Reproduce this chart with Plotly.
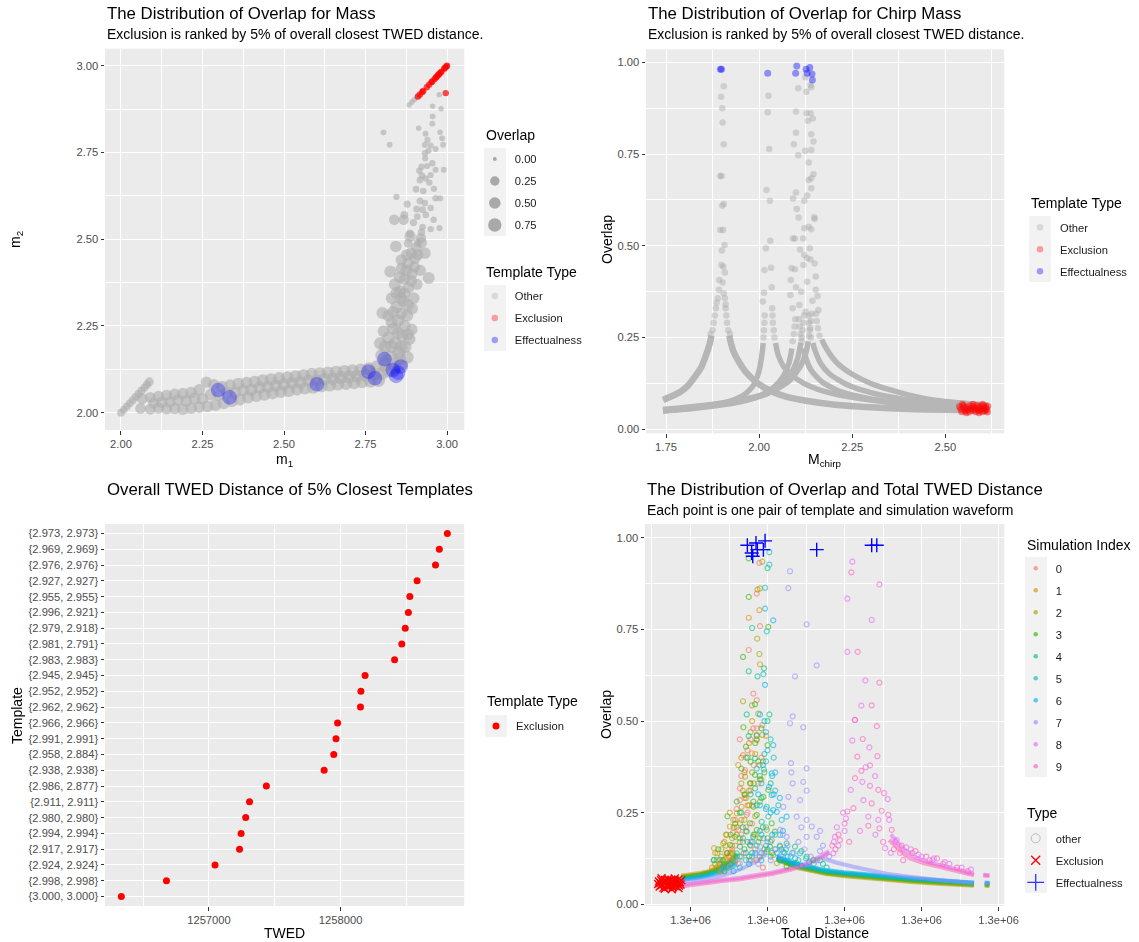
import plotly.graph_objects as go

W, H = 1139, 942
FONT = "Liberation Sans, Arial, Helvetica, sans-serif"
PANEL_BG = "#EBEBEB"
KEY_BG = "#F2F2F2"

# ================= Panel 1 : mass plane  (m1, m2, overlap) =================
mass_other_diag = [(2.000, 2.000, 0.12), (2.009, 2.009, 0.12), (2.018, 2.018, 0.13), (2.027, 2.027, 0.13),
                   (2.036, 2.036, 0.14), (2.045, 2.045, 0.14), (2.054, 2.054, 0.15), (2.063, 2.063, 0.15),
                   (2.072, 2.072, 0.16), (2.080, 2.081, 0.17), (2.087, 2.089, 0.20)]
mass_other_band_low = [(2.060, 2.012, 0.40), (2.090, 2.010, 0.42), (2.115, 2.013, 0.45), (2.140, 2.011, 0.45),
                       (2.165, 2.012, 0.48), (2.190, 2.010, 0.48), (2.215, 2.013, 0.50), (2.240, 2.016, 0.50),
                       (2.265, 2.018, 0.52), (2.290, 2.022, 0.52), (2.315, 2.027, 0.55), (2.340, 2.033, 0.55),
                       (2.365, 2.038, 0.55), (2.390, 2.044, 0.58), (2.415, 2.048, 0.58), (2.440, 2.052, 0.58),
                       (2.465, 2.056, 0.60), (2.490, 2.060, 0.60), (2.515, 2.063, 0.62), (2.540, 2.067, 0.62),
                       (2.565, 2.070, 0.62), (2.590, 2.073, 0.64), (2.615, 2.077, 0.64), (2.640, 2.079, 0.64),
                       (2.665, 2.082, 0.66), (2.690, 2.084, 0.66), (2.715, 2.086, 0.66), (2.740, 2.089, 0.68),
                       (2.765, 2.091, 0.68), (2.790, 2.093, 0.70)]
mass_other_band_mid = [(2.100, 2.028, 0.42), (2.150, 2.031, 0.45), (2.200, 2.034, 0.48), (2.250, 2.040, 0.50),
                       (2.300, 2.050, 0.52), (2.350, 2.058, 0.55), (2.400, 2.066, 0.58), (2.450, 2.074, 0.58),
                       (2.500, 2.081, 0.60), (2.550, 2.087, 0.62), (2.600, 2.093, 0.62), (2.650, 2.098, 0.64),
                       (2.700, 2.103, 0.66), (2.750, 2.108, 0.68), (2.800, 2.113, 0.70),
                       (2.125, 2.030, 0.45), (2.175, 2.036, 0.48), (2.225, 2.041, 0.50), (2.275, 2.052, 0.50),
                       (2.325, 2.058, 0.52), (2.375, 2.064, 0.55), (2.425, 2.072, 0.58), (2.475, 2.078, 0.58),
                       (2.525, 2.086, 0.60), (2.575, 2.092, 0.62), (2.625, 2.097, 0.62), (2.675, 2.101, 0.64),
                       (2.725, 2.106, 0.66), (2.775, 2.110, 0.68)]
mass_other_band_high = [(2.065, 2.040, 0.40), (2.090, 2.044, 0.42), (2.115, 2.047, 0.45), (2.140, 2.050, 0.45),
                        (2.165, 2.053, 0.48), (2.190, 2.055, 0.48), (2.215, 2.058, 0.50), (2.240, 2.066, 0.50),
                        (2.262, 2.088, 0.45), (2.285, 2.080, 0.50), (2.310, 2.075, 0.52), (2.335, 2.079, 0.52),
                        (2.360, 2.083, 0.55), (2.385, 2.086, 0.55), (2.410, 2.089, 0.58), (2.435, 2.093, 0.58),
                        (2.460, 2.096, 0.60), (2.485, 2.099, 0.60), (2.510, 2.101, 0.62), (2.535, 2.104, 0.62),
                        (2.560, 2.108, 0.62), (2.585, 2.111, 0.64), (2.610, 2.113, 0.64), (2.635, 2.115, 0.64),
                        (2.660, 2.117, 0.66), (2.685, 2.119, 0.66), (2.710, 2.121, 0.66), (2.735, 2.123, 0.68),
                        (2.760, 2.127, 0.68), (2.785, 2.132, 0.70), (2.810, 2.138, 0.70)]
mass_other_rise = [(2.820, 2.120, 0.75), (2.840, 2.130, 0.72), (2.860, 2.140, 0.70), (2.878, 2.160, 0.65),
                   (2.830, 2.160, 0.70), (2.852, 2.172, 0.68), (2.810, 2.190, 0.65), (2.872, 2.190, 0.62),
                   (2.840, 2.200, 0.65), (2.820, 2.215, 0.68), (2.862, 2.222, 0.62), (2.885, 2.212, 0.55),
                   (2.805, 2.235, 0.50), (2.835, 2.242, 0.60), (2.870, 2.250, 0.60), (2.892, 2.240, 0.50),
                   (2.850, 2.265, 0.58), (2.820, 2.280, 0.55), (2.878, 2.280, 0.55), (2.802, 2.287, 0.55),
                   (2.893, 2.300, 0.50), (2.845, 2.305, 0.60), (2.866, 2.322, 0.55), (2.830, 2.330, 0.50),
                   (2.898, 2.330, 0.50), (2.856, 2.350, 0.55), (2.882, 2.360, 0.50), (2.840, 2.370, 0.55),
                   (2.908, 2.370, 0.45), (2.870, 2.385, 0.50), (2.944, 2.388, 0.55), (2.826, 2.407, 0.55),
                   (2.892, 2.400, 0.50), (2.860, 2.415, 0.50), (2.918, 2.410, 0.45), (2.880, 2.430, 0.50),
                   (2.902, 2.445, 0.45), (2.932, 2.460, 0.50), (2.876, 2.455, 0.45), (2.843, 2.479, 0.50),
                   (2.906, 2.475, 0.45), (2.922, 2.490, 0.40), (2.887, 2.508, 0.45), (2.920, 2.503, 0.35),
                   (2.838, 2.556, 0.35), (2.867, 2.556, 0.35),
                   (2.815, 2.150, 0.70), (2.855, 2.155, 0.70), (2.860, 2.190, 0.65), (2.830, 2.190, 0.65),
                   (2.850, 2.230, 0.60), (2.880, 2.225, 0.55), (2.830, 2.260, 0.55), (2.860, 2.285, 0.55),
                   (2.835, 2.290, 0.55), (2.880, 2.310, 0.55), (2.860, 2.330, 0.55), (2.845, 2.345, 0.55),
                   (2.870, 2.345, 0.50), (2.890, 2.380, 0.50), (2.855, 2.390, 0.55), (2.875, 2.410, 0.50),
                   (2.900, 2.420, 0.45), (2.890, 2.460, 0.45), (2.860, 2.440, 0.50), (2.910, 2.455, 0.45),
                   (2.800, 2.165, 0.70), (2.795, 2.200, 0.60)]
mass_other_sparse = [(2.805, 2.808, 0.03), (2.824, 2.772, 0.03), (2.913, 2.820, 0.02), (2.934, 2.804, 0.03),
                     (2.976, 2.916, 0.02), (2.979, 2.808, 0.02), (2.985, 2.791, 0.03), (2.988, 2.772, 0.03),
                     (2.956, 2.883, 0.02), (2.982, 2.876, 0.02), (2.956, 2.854, 0.03), (2.955, 2.833, 0.03),
                     (2.940, 2.786, 0.04), (2.932, 2.772, 0.04), (2.950, 2.770, 0.03), (2.943, 2.755, 0.04),
                     (2.932, 2.748, 0.05), (2.965, 2.760, 0.03), (2.933, 2.733, 0.04), (2.955, 2.719, 0.05),
                     (2.922, 2.709, 0.05), (2.939, 2.711, 0.04), (2.965, 2.700, 0.04), (2.990, 2.700, 0.03),
                     (2.915, 2.697, 0.05), (2.923, 2.683, 0.06), (2.950, 2.685, 0.04), (2.917, 2.670, 0.06),
                     (2.946, 2.663, 0.05), (2.935, 2.675, 0.05), (2.905, 2.644, 0.07), (2.927, 2.639, 0.06),
                     (2.960, 2.645, 0.05), (2.845, 2.622, 0.05), (2.878, 2.601, 0.08), (2.917, 2.610, 0.07),
                     (2.965, 2.618, 0.05), (2.979, 2.618, 0.04), (2.932, 2.604, 0.06), (2.907, 2.587, 0.08),
                     (2.925, 2.585, 0.07), (2.950, 2.590, 0.05), (2.935, 2.570, 0.06), (2.959, 2.556, 0.05),
                     (2.909, 2.565, 0.07), (2.977, 2.532, 0.04), (2.950, 2.529, 0.05), (2.925, 2.535, 0.06),
                     (2.897, 2.548, 0.09), (2.869, 2.570, 0.12), (2.886, 2.516, 0.15), (2.922, 2.520, 0.10),
                     (2.881, 2.488, 0.20), (2.910, 2.490, 0.12),
                     (2.884, 2.887, 0.02), (2.892, 2.895, 0.02), (2.900, 2.902, 0.02), (2.907, 2.909, 0.02)]
mass_excl = [(2.911, 2.911, 0.05), (2.917, 2.917, 0.05), (2.924, 2.924, 0.05), (2.927, 2.927, 0.05),
             (2.938, 2.938, 0.05), (2.945, 2.945, 0.05), (2.952, 2.952, 0.05), (2.955, 2.955, 0.05),
             (2.962, 2.962, 0.05), (2.966, 2.966, 0.05), (2.969, 2.969, 0.05), (2.973, 2.973, 0.05),
             (2.976, 2.976, 0.05), (2.980, 2.980, 0.05), (2.983, 2.983, 0.05), (2.991, 2.991, 0.05),
             (2.994, 2.994, 0.05), (2.998, 2.998, 0.05), (3.000, 3.000, 0.05), (2.996, 2.921, 0.05)]
mass_effect = [(2.298, 2.065, 0.98), (2.333, 2.044, 0.98), (2.601, 2.082, 0.97), (2.759, 2.118, 0.99),
               (2.779, 2.099, 0.97), (2.808, 2.154, 0.98), (2.834, 2.123, 0.97), (2.844, 2.106, 0.985),
               (2.858, 2.133, 0.968), (2.850, 2.115, 0.95)]
overlap_legend_values = [0.00, 0.25, 0.50, 0.75]

# ================= Panel 2 : chirp mass vs overlap =================
chirp_band_A_left = [(1.742, 0.080), (1.765, 0.090), (1.790, 0.103), (1.810, 0.120), (1.828, 0.144),
                     (1.845, 0.170), (1.856, 0.198), (1.867, 0.232), (1.872, 0.255)]
chirp_band_A_right = [(1.920, 0.255), (1.925, 0.232), (1.932, 0.210), (1.945, 0.185),
                      (1.965, 0.155), (1.997, 0.125), (2.030, 0.105), (2.072, 0.089), (2.130, 0.077),
                      (2.204, 0.067), (2.300, 0.060), (2.400, 0.055), (2.500, 0.053), (2.615, 0.051)]
chirp_band_B_left = [(1.742, 0.050), (1.800, 0.055), (1.860, 0.063), (1.920, 0.076), (1.960, 0.094),
                     (1.985, 0.120), (2.000, 0.160), (2.007, 0.200), (2.011, 0.235)]
chirp_band_B_right = [(2.044, 0.235), (2.048, 0.215), (2.052, 0.200), (2.065, 0.172), (2.085, 0.150),
                      (2.120, 0.125), (2.170, 0.105), (2.250, 0.087), (2.350, 0.073), (2.450, 0.064),
                      (2.550, 0.058), (2.615, 0.055)]
chirp_band_C1_left = [(1.742, 0.050), (1.850, 0.060), (1.950, 0.075), (2.000, 0.090), (2.040, 0.115),
                      (2.065, 0.145), (2.080, 0.180), (2.088, 0.220)]
chirp_band_C1_right = [(2.118, 0.220), (2.125, 0.195), (2.140, 0.160), (2.170, 0.128),
                       (2.220, 0.102), (2.300, 0.083), (2.400, 0.070), (2.500, 0.062), (2.615, 0.056)]
chirp_band_C2_left = [(1.742, 0.052), (1.850, 0.062), (1.950, 0.077), (2.020, 0.096), (2.060, 0.121),
                      (2.090, 0.160), (2.105, 0.200), (2.112, 0.235)]
chirp_band_C2_right = [(2.144, 0.235), (2.150, 0.215), (2.165, 0.180), (2.190, 0.150),
                       (2.240, 0.120), (2.300, 0.100), (2.400, 0.080), (2.500, 0.069), (2.615, 0.061)]
chirp_band_C3_left = [(1.742, 0.054), (1.850, 0.065), (1.950, 0.080), (2.030, 0.101), (2.080, 0.131),
                      (2.110, 0.170), (2.126, 0.210), (2.132, 0.240)]
chirp_band_C3_right = [(2.168, 0.245), (2.175, 0.230), (2.190, 0.205), (2.210, 0.180),
                       (2.250, 0.150), (2.300, 0.125), (2.350, 0.108), (2.400, 0.094), (2.450, 0.083),
                       (2.500, 0.076), (2.560, 0.070), (2.615, 0.066)]
chirp_other_sparse = [(1.905, 0.935), (1.898, 0.906), (1.901, 0.875), (1.902, 0.836), (1.905, 0.777),
                      (1.896, 0.690), (1.899, 0.690), (1.905, 0.614), (1.901, 0.609), (1.896, 0.543),
                      (1.903, 0.543), (1.907, 0.502), (1.900, 0.487), (1.899, 0.448), (1.904, 0.443),
                      (1.908, 0.427), (1.893, 0.407), (1.902, 0.400), (1.892, 0.380), (1.905, 0.371),
                      (1.908, 0.357), (1.889, 0.357), (1.910, 0.340), (1.886, 0.345),
                      (1.875, 0.270), (1.878, 0.290), (1.881, 0.310), (1.884, 0.330), (1.917, 0.270),
                      (1.914, 0.290), (1.912, 0.310), (1.910, 0.330), (1.870, 0.260), (1.922, 0.260),
                      (2.025, 0.909), (2.023, 0.864), (2.027, 0.764), (2.020, 0.652), (2.029, 0.623),
                      (2.030, 0.514), (2.018, 0.493), (2.032, 0.440), (2.014, 0.434), (2.034, 0.387),
                      (2.013, 0.372), (2.010, 0.348), (2.035, 0.330),
                      (2.012, 0.250), (2.013, 0.270), (2.014, 0.290), (2.015, 0.310), (2.041, 0.250),
                      (2.039, 0.270), (2.037, 0.290), (2.036, 0.310),
                      (2.124, 0.959), (2.105, 0.929), (2.127, 0.920), (2.138, 0.938), (2.140, 0.932),
                      (2.099, 0.866), (2.127, 0.861), (2.138, 0.861), (2.131, 0.841), (2.144, 0.847),
                      (2.099, 0.808), (2.140, 0.804), (2.093, 0.777), (2.146, 0.784), (2.105, 0.747),
                      (2.124, 0.759), (2.140, 0.761), (2.133, 0.727), (2.146, 0.695), (2.133, 0.679),
                      (2.140, 0.684), (2.140, 0.657), (2.099, 0.645), (2.091, 0.629), (2.121, 0.623),
                      (2.129, 0.637), (2.101, 0.600), (2.106, 0.577), (2.148, 0.578), (2.149, 0.573),
                      (2.121, 0.548), (2.133, 0.552), (2.140, 0.545), (2.091, 0.520), (2.096, 0.520),
                      (2.118, 0.520), (2.110, 0.490), (2.136, 0.493), (2.121, 0.475), (2.129, 0.466),
                      (2.138, 0.463), (2.149, 0.452), (2.087, 0.439), (2.096, 0.436), (2.119, 0.448),
                      (2.152, 0.416), (2.085, 0.407), (2.129, 0.402), (2.099, 0.387), (2.152, 0.380),
                      (2.084, 0.366), (2.113, 0.375), (2.157, 0.363), (2.108, 0.339), (2.143, 0.350),
                      (2.159, 0.325), (2.090, 0.330), (2.125, 0.320),
                      (2.090, 0.240), (2.093, 0.260), (2.095, 0.280), (2.097, 0.300), (2.114, 0.240),
                      (2.111, 0.260), (2.109, 0.280), (2.107, 0.300), (2.114, 0.250), (2.117, 0.270),
                      (2.119, 0.290), (2.121, 0.310), (2.139, 0.250), (2.136, 0.270), (2.134, 0.290),
                      (2.133, 0.310), (2.134, 0.255), (2.137, 0.275), (2.139, 0.295), (2.141, 0.315),
                      (2.162, 0.255), (2.158, 0.275), (2.155, 0.295), (2.153, 0.315)]
chirp_excl = [(2.538, 0.062), (2.541, 0.055), (2.544, 0.048), (2.548, 0.065), (2.551, 0.058), (2.553, 0.050),
              (2.557, 0.061), (2.560, 0.054), (2.563, 0.047), (2.566, 0.064), (2.569, 0.057), (2.572, 0.051),
              (2.575, 0.062), (2.578, 0.055), (2.581, 0.048), (2.584, 0.065), (2.587, 0.058), (2.589, 0.051),
              (2.592, 0.062), (2.595, 0.055), (2.598, 0.048), (2.601, 0.064), (2.604, 0.057), (2.606, 0.050),
              (2.609, 0.061), (2.611, 0.054), (2.613, 0.047), (2.614, 0.063), (2.546, 0.068), (2.574, 0.068),
              (2.600, 0.068), (2.556, 0.045), (2.590, 0.045)]
chirp_effect = [(1.896, 0.981), (1.899, 0.981), (2.023, 0.970), (2.101, 0.990), (2.098, 0.970),
                (2.126, 0.981), (2.129, 0.970), (2.136, 0.986), (2.142, 0.968), (2.143, 0.952)]

# ================= Panel 3 : TWED of 5% closest templates =================
templates = ["{3.000, 3.000}", "{2.998, 2.998}", "{2.924, 2.924}", "{2.917, 2.917}", "{2.994, 2.994}",
             "{2.980, 2.980}", "{2.911, 2.911}", "{2.986, 2.877}", "{2.938, 2.938}", "{2.958, 2.884}",
             "{2.991, 2.991}", "{2.966, 2.966}", "{2.962, 2.962}", "{2.952, 2.952}", "{2.945, 2.945}",
             "{2.983, 2.983}", "{2.981, 2.791}", "{2.979, 2.918}", "{2.996, 2.921}", "{2.955, 2.955}",
             "{2.927, 2.927}", "{2.976, 2.976}", "{2.969, 2.969}", "{2.973, 2.973}"]
twed = [1256334, 1256677, 1257046, 1257232, 1257244, 1257279, 1257308, 1257436, 1257875, 1257948,
        1257965, 1257977, 1258151, 1258154, 1258186, 1258410, 1258465, 1258491, 1258515, 1258526,
        1258581, 1258721, 1258750, 1258811]
twed_ticks = [1257000, 1258000]
twed_ticktext = ["1257000", "1258000"]

# ================= Panel 4 : overlap vs total distance (in thousands) =================
sim_colors = ["#F8766D", "#D89000", "#A3A500", "#39B600", "#00BF7D",
              "#00BFC4", "#00B0F6", "#9590FF", "#E76BF3", "#FF62BC"]
sim_labels = ["0", "1", "2", "3", "4", "5", "6", "7", "8", "9"]
dist_ticks = [1260, 1265, 1270, 1275, 1280]
dist_ticktext = ["1.3e+06"] * 5

sim_points = [
    [(1264.47, 0.932), (1264.30, 0.848), (1264.51, 0.759), (1263.78, 0.694), (1264.08, 0.575), (1264.30, 0.557),
     (1264.08, 0.480), (1264.30, 0.480), (1264.66, 0.489), (1263.41, 0.407), (1263.54, 0.366), (1263.21, 0.316),
     (1263.21, 0.284), (1263.65, 0.244), (1263.10, 0.203), (1264.00, 0.270), (1262.90, 0.230), (1263.40, 0.170),
     (1262.70, 0.150), (1263.90, 0.310), (1262.50, 0.130), (1264.20, 0.150), (1263.00, 0.260),
     (1262.20, 0.100), (1262.60, 0.120), (1262.90, 0.160), (1263.30, 0.190), (1263.60, 0.210), (1263.90, 0.170),
     (1264.30, 0.120), (1264.70, 0.100), (1262.40, 0.140), (1263.10, 0.110), (1263.70, 0.250), (1262.00, 0.090),
     (1264.00, 0.220), (1263.45, 0.140), (1262.75, 0.195),
     (1263.30, 0.350), (1263.70, 0.420), (1264.10, 0.380), (1263.90, 0.450), (1264.40, 0.330), (1263.50, 0.290),
     (1264.60, 0.400), (1263.20, 0.450)],
    [(1264.51, 0.862), (1264.47, 0.803), (1263.78, 0.782), (1264.51, 0.655), (1264.30, 0.462), (1264.30, 0.448),
     (1263.99, 0.412), (1264.47, 0.380), (1263.10, 0.380), (1263.86, 0.330), (1263.32, 0.266), (1263.00, 0.248),
     (1262.78, 0.230), (1262.56, 0.212), (1262.35, 0.189), (1265.27, 0.175), (1265.81, 0.157), (1261.53, 0.153),
     (1265.37, 0.134), (1262.00, 0.130), (1263.60, 0.290), (1261.70, 0.120), (1262.30, 0.160),
     (1261.40, 0.100), (1261.90, 0.110), (1262.40, 0.140), (1262.70, 0.180), (1263.00, 0.210), (1263.30, 0.230),
     (1263.60, 0.200), (1263.90, 0.160), (1262.20, 0.170), (1261.60, 0.140), (1262.90, 0.120), (1264.20, 0.190),
     (1263.40, 0.310), (1262.55, 0.250), (1264.50, 0.130),
     (1263.50, 0.360), (1263.80, 0.440), (1264.20, 0.410), (1264.00, 0.500), (1263.30, 0.400), (1264.60, 0.340),
     (1263.70, 0.270), (1264.90, 0.460)],
    [(1264.66, 0.935), (1264.35, 0.859), (1264.33, 0.725), (1264.47, 0.683), (1263.41, 0.554), (1263.99, 0.543),
     (1264.66, 0.462), (1263.54, 0.348), (1264.51, 0.280), (1263.54, 0.298), (1263.21, 0.221), (1264.95, 0.203),
     (1262.13, 0.166), (1261.74, 0.139), (1265.60, 0.112), (1263.00, 0.190), (1264.10, 0.330), (1262.60, 0.140),
     (1261.60, 0.110), (1262.00, 0.150), (1262.30, 0.190), (1262.80, 0.210), (1263.20, 0.170), (1263.50, 0.230),
     (1263.80, 0.270), (1264.20, 0.240), (1262.50, 0.100), (1263.30, 0.130), (1264.50, 0.180), (1264.80, 0.150),
     (1261.90, 0.090), (1263.90, 0.120), (1262.70, 0.160),
     (1263.60, 0.400), (1264.00, 0.360), (1264.30, 0.450), (1263.80, 0.310), (1264.70, 0.390), (1263.30, 0.330),
     (1264.40, 0.520), (1263.90, 0.470)],
    [(1263.78, 0.944), (1263.78, 0.839), (1265.05, 0.757), (1263.41, 0.675), (1264.19, 0.546), (1263.43, 0.483),
     (1265.00, 0.434), (1263.90, 0.389), (1264.19, 0.353), (1264.51, 0.341), (1265.05, 0.312), (1264.73, 0.293),
     (1264.08, 0.280), (1264.08, 0.266), (1264.30, 0.244), (1265.27, 0.221), (1263.86, 0.221), (1264.30, 0.203),
     (1265.48, 0.198), (1262.89, 0.184), (1262.56, 0.162), (1265.16, 0.157), (1262.35, 0.139), (1264.95, 0.143),
     (1267.97, 0.121), (1266.24, 0.103), (1263.20, 0.250), (1262.10, 0.120),
     (1261.50, 0.120), (1261.80, 0.150), (1262.20, 0.110), (1262.60, 0.190), (1262.90, 0.220), (1263.20, 0.180),
     (1263.50, 0.150), (1263.80, 0.130), (1264.10, 0.190), (1264.40, 0.170), (1264.70, 0.210), (1265.00, 0.180),
     (1265.30, 0.140), (1263.00, 0.280), (1262.40, 0.240),
     (1263.60, 0.430), (1264.40, 0.390), (1263.90, 0.330), (1264.80, 0.360), (1263.50, 0.300), (1264.60, 0.480),
     (1264.20, 0.440), (1263.30, 0.370)],
    [(1265.00, 0.918), (1264.00, 0.754), (1264.77, 0.644), (1263.78, 0.636), (1264.35, 0.622), (1263.65, 0.518),
     (1265.12, 0.518), (1263.78, 0.459), (1264.19, 0.398), (1264.19, 0.316), (1264.95, 0.266), (1265.05, 0.239),
     (1264.62, 0.225), (1263.65, 0.198), (1264.08, 0.184), (1263.21, 0.157), (1261.91, 0.121), (1263.00, 0.139),
     (1266.24, 0.166), (1266.78, 0.157), (1267.54, 0.130), (1266.89, 0.112), (1267.20, 0.145), (1268.60, 0.110),
     (1262.60, 0.110), (1263.00, 0.130), (1263.40, 0.210), (1263.70, 0.170), (1264.00, 0.140), (1264.30, 0.270),
     (1264.60, 0.190), (1264.90, 0.160), (1265.20, 0.130), (1265.50, 0.150), (1265.80, 0.120), (1266.10, 0.140),
     (1266.50, 0.110), (1263.30, 0.250), (1262.20, 0.090),
     (1264.50, 0.350), (1264.80, 0.410), (1265.20, 0.330), (1264.30, 0.460), (1263.90, 0.300), (1265.00, 0.500),
     (1264.60, 0.290), (1263.70, 0.400)],
    [(1265.12, 0.927), (1265.12, 0.961), (1264.84, 0.864), (1264.95, 0.745), (1264.73, 0.628), (1265.37, 0.434),
     (1264.77, 0.368), (1265.27, 0.298), (1265.37, 0.257), (1265.92, 0.230), (1263.41, 0.180), (1265.81, 0.189),
     (1263.86, 0.162), (1261.53, 0.121), (1266.02, 0.143), (1267.11, 0.139), (1268.41, 0.120), (1268.84, 0.100),
     (1265.30, 0.350), (1266.50, 0.130),
     (1263.20, 0.100), (1263.60, 0.120), (1264.00, 0.130), (1264.30, 0.160), (1264.60, 0.140), (1264.90, 0.210),
     (1265.20, 0.170), (1265.50, 0.190), (1265.80, 0.160), (1266.20, 0.150), (1266.60, 0.140), (1267.00, 0.120),
     (1267.50, 0.125), (1268.00, 0.110), (1264.50, 0.270),
     (1264.90, 0.390), (1265.20, 0.450), (1264.60, 0.330), (1265.50, 0.310), (1264.80, 0.500), (1265.40, 0.400),
     (1264.30, 0.370), (1265.70, 0.270)],
    [(1264.84, 0.807), (1265.37, 0.775), (1264.84, 0.599), (1264.51, 0.518), (1265.27, 0.357), (1265.60, 0.252),
     (1266.24, 0.239), (1264.73, 0.180), (1262.13, 0.103), (1264.50, 0.200), (1265.90, 0.150), (1263.60, 0.140),
     (1265.00, 0.420), (1266.80, 0.125), (1267.70, 0.115),
     (1262.80, 0.090), (1263.20, 0.130), (1263.80, 0.110), (1264.20, 0.140), (1264.60, 0.120), (1265.00, 0.150),
     (1265.30, 0.190), (1265.60, 0.140), (1265.90, 0.120), (1266.30, 0.130), (1266.70, 0.110), (1267.20, 0.105),
     (1264.90, 0.260), (1265.40, 0.300), (1264.00, 0.170),
     (1265.10, 0.320), (1264.70, 0.380), (1265.50, 0.360), (1264.90, 0.470), (1265.80, 0.290), (1264.40, 0.300),
     (1265.20, 0.250), (1266.00, 0.200)],
    [(1266.46, 0.909), (1266.35, 0.863), (1267.54, 0.764), (1268.19, 0.652), (1266.78, 0.622), (1266.63, 0.513),
     (1266.46, 0.494), (1267.32, 0.483), (1266.52, 0.385), (1267.54, 0.371), (1266.55, 0.360), (1267.32, 0.334),
     (1266.63, 0.330), (1266.35, 0.293), (1267.11, 0.284), (1267.54, 0.310), (1266.89, 0.239), (1267.54, 0.230),
     (1267.87, 0.212), (1268.19, 0.184), (1267.54, 0.184), (1266.24, 0.184), (1265.81, 0.203), (1266.02, 0.266),
     (1268.41, 0.200), (1264.51, 0.157), (1264.20, 0.134), (1264.50, 0.139), (1263.20, 0.112), (1262.56, 0.103),
     (1268.60, 0.160), (1269.00, 0.130), (1268.40, 0.145),
     (1264.80, 0.140), (1265.20, 0.120), (1265.50, 0.150), (1265.90, 0.130), (1266.30, 0.160), (1266.70, 0.140),
     (1267.00, 0.170), (1267.40, 0.150), (1267.80, 0.130), (1268.20, 0.120), (1265.00, 0.170), (1266.00, 0.190),
     (1267.20, 0.210), (1263.80, 0.120), (1264.40, 0.110)],
    [(1270.50, 0.935), (1270.18, 0.834), (1271.76, 0.776), (1270.18, 0.689), (1271.35, 0.611), (1271.09, 0.542),
     (1270.66, 0.503), (1270.50, 0.447), (1271.61, 0.428), (1271.37, 0.374), (1271.98, 0.350), (1271.15, 0.334),
     (1270.40, 0.312), (1272.80, 0.287), (1271.22, 0.284), (1271.54, 0.239), (1272.19, 0.230), (1270.09, 0.234),
     (1272.90, 0.230), (1269.38, 0.184), (1269.27, 0.139), (1270.00, 0.200), (1272.63, 0.153), (1273.38, 0.175),
     (1269.60, 0.160), (1271.00, 0.200), (1272.00, 0.190), (1273.00, 0.140), (1274.00, 0.155), (1274.80, 0.135),
     (1275.70, 0.120), (1276.50, 0.115), (1273.30, 0.170), (1274.30, 0.150), (1275.00, 0.130), (1275.80, 0.125),
     (1276.80, 0.110), (1277.60, 0.100), (1278.20, 0.095), (1269.50, 0.210), (1269.90, 0.250), (1269.30, 0.170)],
    [(1270.44, 0.906), (1272.26, 0.873), (1270.85, 0.689), (1272.26, 0.605), (1271.76, 0.543), (1270.68, 0.503),
     (1272.09, 0.486), (1271.18, 0.451), (1270.83, 0.403), (1272.13, 0.404), (1271.65, 0.379), (1271.09, 0.364),
     (1270.68, 0.344), (1271.65, 0.323), (1272.19, 0.312), (1272.56, 0.303), (1270.57, 0.262), (1271.76, 0.275),
     (1272.41, 0.255), (1270.18, 0.253), (1271.54, 0.214), (1272.26, 0.207), (1272.84, 0.244), (1273.06, 0.203),
     (1269.70, 0.175), (1272.50, 0.170), (1269.40, 0.150), (1270.30, 0.170), (1273.20, 0.150), (1273.60, 0.140),
     (1274.40, 0.140), (1275.30, 0.130), (1273.80, 0.120), (1276.00, 0.125), (1273.70, 0.160), (1274.60, 0.145),
     (1275.50, 0.120), (1276.40, 0.110), (1277.30, 0.100), (1278.00, 0.090), (1269.60, 0.190), (1270.00, 0.220),
     (1269.20, 0.160)],
]
sim_left_tail = [
    [(1259.40, 0.072), (1260.00, 0.075), (1260.60, 0.079), (1261.20, 0.085), (1261.80, 0.095), (1262.40, 0.110), (1263.00, 0.130)],
    [(1259.40, 0.078), (1260.00, 0.081), (1260.60, 0.085), (1261.20, 0.090), (1261.60, 0.100), (1262.20, 0.125), (1262.80, 0.150)],
    [(1259.40, 0.075), (1260.00, 0.078), (1260.60, 0.082), (1261.20, 0.088), (1261.80, 0.098), (1262.40, 0.118), (1263.00, 0.140)],
    [(1259.40, 0.074), (1260.00, 0.077), (1260.60, 0.081), (1261.20, 0.087), (1261.80, 0.097), (1262.40, 0.112), (1263.00, 0.135)],
    [(1259.40, 0.070), (1260.00, 0.073), (1260.60, 0.077), (1261.20, 0.083), (1261.80, 0.092), (1262.40, 0.105), (1263.00, 0.120)],
    [(1259.40, 0.068), (1260.00, 0.071), (1260.60, 0.075), (1261.20, 0.080), (1261.80, 0.088), (1262.40, 0.100), (1263.00, 0.115)],
    [(1259.40, 0.066), (1260.00, 0.069), (1260.60, 0.073), (1261.20, 0.078), (1261.80, 0.085), (1262.40, 0.095), (1263.00, 0.108)],
    [(1259.40, 0.060), (1260.20, 0.063), (1261.00, 0.068), (1261.80, 0.075), (1262.60, 0.085), (1263.40, 0.098), (1264.20, 0.115), (1264.90, 0.135)],
    [(1259.40, 0.052), (1260.20, 0.057), (1261.05, 0.062), (1262.10, 0.067), (1263.21, 0.072), (1264.30, 0.079), (1265.37, 0.087), (1266.50, 0.098), (1267.54, 0.112), (1268.41, 0.130), (1269.00, 0.145)],
    [(1259.40, 0.048), (1260.20, 0.053), (1261.05, 0.058), (1262.10, 0.063), (1263.21, 0.068), (1264.30, 0.075), (1265.37, 0.083), (1266.50, 0.094), (1267.54, 0.107), (1268.41, 0.125), (1269.00, 0.140)],
]
sim_right_tail = [
    [(1265.6, 0.127), (1266.3, 0.114), (1267.0, 0.104), (1267.8, 0.097), (1268.8, 0.088), (1270.0, 0.082), (1271.5, 0.076), (1273.0, 0.070), (1274.5, 0.066), (1276.0, 0.062), (1277.5, 0.059), (1278.4, 0.056), None, (1279.1, 0.056), (1279.4, 0.055)],
    [(1265.6, 0.123), (1266.3, 0.110), (1267.0, 0.100), (1267.8, 0.093), (1268.8, 0.084), (1270.0, 0.078), (1271.5, 0.072), (1273.0, 0.066), (1274.5, 0.062), (1276.0, 0.058), (1277.5, 0.055), (1278.4, 0.052), None, (1279.1, 0.052), (1279.4, 0.051)],
    [(1265.6, 0.121), (1266.3, 0.108), (1267.0, 0.098), (1267.8, 0.091), (1268.8, 0.082), (1270.0, 0.076), (1271.5, 0.070), (1273.0, 0.064), (1274.5, 0.060), (1276.0, 0.056), (1277.5, 0.053), (1278.4, 0.050), None, (1279.1, 0.050), (1279.4, 0.050)],
    [(1265.6, 0.125), (1266.3, 0.112), (1267.0, 0.102), (1267.8, 0.095), (1268.8, 0.086), (1270.0, 0.080), (1271.5, 0.074), (1273.0, 0.068), (1274.5, 0.064), (1276.0, 0.060), (1277.5, 0.057), (1278.4, 0.054), None, (1279.1, 0.054), (1279.4, 0.053)],
    [(1265.6, 0.128), (1266.3, 0.115), (1267.0, 0.105), (1267.8, 0.098), (1268.8, 0.089), (1270.0, 0.083), (1271.5, 0.077), (1273.0, 0.071), (1274.5, 0.067), (1276.0, 0.063), (1277.5, 0.060), (1278.4, 0.057), None, (1279.1, 0.057), (1279.4, 0.056)],
    [(1265.6, 0.130), (1266.3, 0.117), (1267.0, 0.107), (1267.8, 0.100), (1268.8, 0.091), (1270.0, 0.085), (1271.5, 0.079), (1273.0, 0.073), (1274.5, 0.069), (1276.0, 0.065), (1277.5, 0.061), (1278.4, 0.058), None, (1279.1, 0.058), (1279.4, 0.057)],
    [(1265.6, 0.132), (1266.3, 0.119), (1267.0, 0.109), (1267.8, 0.102), (1268.8, 0.093), (1270.0, 0.087), (1271.5, 0.081), (1273.0, 0.075), (1274.5, 0.071), (1276.0, 0.066), (1277.5, 0.062), (1278.4, 0.059), None, (1279.1, 0.059), (1279.4, 0.058)],
    [(1268.6, 0.125), (1269.5, 0.113), (1270.57, 0.102), (1271.6, 0.092), (1272.74, 0.083), (1273.8, 0.077), (1274.9, 0.071), (1276.6, 0.064), (1278.36, 0.058), None, (1279.1, 0.058), (1279.4, 0.058)],
    [(1273.0, 0.190), (1273.5, 0.165), (1274.0, 0.145), (1274.6, 0.128), (1275.4, 0.115), (1276.3, 0.105), (1277.2, 0.095), (1278.0, 0.087), (1278.4, 0.083), None, (1279.0, 0.080), (1279.4, 0.079)],
    [(1272.9, 0.175), (1273.4, 0.155), (1273.9, 0.135), (1274.25, 0.125), (1275.11, 0.112), (1276.2, 0.101), (1277.0, 0.092), (1277.8, 0.084), (1278.4, 0.079), None, (1279.0, 0.078), (1279.4, 0.077)],
]
dist_excl = [(1257.90, 0.055), (1257.95, 0.062), (1258.00, 0.048), (1258.05, 0.058), (1258.10, 0.065), (1258.15, 0.052),
             (1258.20, 0.060), (1258.25, 0.045), (1258.30, 0.057), (1258.35, 0.066), (1258.40, 0.050), (1258.45, 0.061),
             (1258.50, 0.054), (1258.55, 0.047), (1258.60, 0.063), (1258.65, 0.056), (1258.70, 0.050), (1258.75, 0.066),
             (1258.80, 0.059), (1258.85, 0.046), (1258.90, 0.053), (1258.95, 0.064), (1259.00, 0.057), (1259.05, 0.049),
             (1259.10, 0.062), (1259.15, 0.055), (1259.20, 0.067), (1259.25, 0.051), (1259.30, 0.060), (1259.35, 0.054),
             (1259.40, 0.065), (1258.12, 0.071), (1258.55, 0.069), (1258.98, 0.070), (1258.33, 0.042), (1258.78, 0.041),
             (1259.22, 0.044)]
dist_effect = [(1263.69, 0.980), (1264.25, 0.986), (1264.84, 0.992), (1263.97, 0.959), (1264.34, 0.968),
               (1264.73, 0.968), (1264.04, 0.950), (1268.19, 0.968), (1271.76, 0.980), (1272.09, 0.980)]


# ---------------- helpers ----------------
def ov_size(v):
    return 4 + 10.8 * v ** 0.5


def col(rows, i):
    return [None if r is None else r[i] for r in rows]


def pxx(p):
    return p / W


def pxy(p):
    return 1 - p / H


fig = go.Figure()

# ---- Panel 1 ----
mass_other = (mass_other_diag + mass_other_band_low + mass_other_band_mid + mass_other_band_high
              + mass_other_rise + mass_other_sparse)
fig.add_trace(go.Scatter(x=col(mass_other, 0), y=col(mass_other, 1), mode="markers", xaxis="x", yaxis="y",
                         marker=dict(size=[ov_size(r[2]) for r in mass_other], color="rgba(174,174,174,0.88)", line=dict(width=0)),
                         showlegend=False, hoverinfo="skip"))
fig.add_trace(go.Scatter(x=col(mass_excl, 0), y=col(mass_excl, 1), mode="markers", xaxis="x", yaxis="y",
                         marker=dict(size=[ov_size(r[2]) for r in mass_excl], color="#FF0000", line=dict(width=0)),
                         showlegend=False, hoverinfo="skip"))
fig.add_trace(go.Scatter(x=col(mass_effect, 0), y=col(mass_effect, 1), mode="markers", xaxis="x", yaxis="y",
                         marker=dict(size=[ov_size(r[2]) for r in mass_effect], color="rgba(0,0,255,0.45)", line=dict(width=0)),
                         showlegend=False, hoverinfo="skip"))

# ---- Panel 2 ----
chirp_bands = [chirp_band_A_left, chirp_band_A_right, chirp_band_B_left, chirp_band_B_right,
               chirp_band_C1_left, chirp_band_C1_right, chirp_band_C2_left, chirp_band_C2_right,
               chirp_band_C3_left, chirp_band_C3_right]
for i, band in enumerate(chirp_bands):
    fig.add_trace(go.Scatter(x=col(band, 0), y=col(band, 1), mode="lines", xaxis="x2", yaxis="y2",
                             line=dict(color="rgb(182,182,182)", width=6.5 if i < 2 else 5.5, shape="spline", smoothing=0.6),
                             showlegend=False, hoverinfo="skip"))
fig.add_trace(go.Scatter(x=col(chirp_other_sparse, 0), y=col(chirp_other_sparse, 1), mode="markers", xaxis="x2", yaxis="y2",
                         marker=dict(size=6.5, color="rgba(170,170,170,0.45)", line=dict(width=0)),
                         showlegend=False, hoverinfo="skip"))
fig.add_trace(go.Scatter(x=col(chirp_excl, 0), y=col(chirp_excl, 1), mode="markers", xaxis="x2", yaxis="y2",
                         marker=dict(size=7, color="rgba(255,0,0,0.45)", line=dict(width=0)),
                         showlegend=False, hoverinfo="skip"))
fig.add_trace(go.Scatter(x=col(chirp_effect, 0), y=col(chirp_effect, 1), mode="markers", xaxis="x2", yaxis="y2",
                         marker=dict(size=7, color="rgba(0,0,255,0.4)", line=dict(width=0)),
                         showlegend=False, hoverinfo="skip"))

# ---- Panel 3 ----
fig.add_trace(go.Scatter(x=twed, y=templates, mode="markers", xaxis="x3", yaxis="y3",
                         marker=dict(size=7, color="#FF0000"), showlegend=False, hoverinfo="skip"))

# ---- Panel 4 ----
for s in range(10):
    for tail in (sim_left_tail[s], sim_right_tail[s]):
        fig.add_trace(go.Scatter(x=col(tail, 0), y=col(tail, 1), mode="lines", xaxis="x4", yaxis="y4",
                                 line=dict(color=sim_colors[s], width=4), opacity=0.55,
                                 showlegend=False, hoverinfo="skip", connectgaps=False))
for s in range(10):
    pts = sim_points[s]
    fig.add_trace(go.Scatter(x=col(pts, 0), y=col(pts, 1), mode="markers", xaxis="x4", yaxis="y4",
                             marker=dict(symbol="circle-open", size=5, color=sim_colors[s], line=dict(width=1.2)),
                             opacity=0.6, showlegend=False, hoverinfo="skip"))
fig.add_trace(go.Scatter(x=col(dist_excl, 0), y=col(dist_excl, 1), mode="markers", xaxis="x4", yaxis="y4",
                         marker=dict(symbol="x-thin-open", size=8, color="#FF0000", line=dict(width=1.4, color="#FF0000")),
                         showlegend=False, hoverinfo="skip"))
fig.add_trace(go.Scatter(x=col(dist_effect, 0), y=col(dist_effect, 1), mode="markers", xaxis="x4", yaxis="y4",
                         marker=dict(symbol="cross-thin-open", size=10, color="#0000FF", line=dict(width=1.4, color="#0000FF")),
                         showlegend=False, hoverinfo="skip"))


# ---------------- legend-only entries ----------------
def key(name, legend, group, marker):
    fig.add_trace(go.Scatter(x=[None], y=[None], mode="markers", name=name, legend=legend,
                             legendgroup=group, marker=marker, xaxis="x", yaxis="y", hoverinfo="skip"))


for v in overlap_legend_values:
    key(f"{v:.2f}", "legend", f"ov{v}", dict(size=ov_size(v), color="rgba(110,110,110,0.55)"))
type_keys = [("Other", "rgba(170,170,170,0.35)"), ("Exclusion", "rgba(255,0,0,0.35)"), ("Effectualness", "rgba(0,0,255,0.35)")]
for nm, c in type_keys:
    key(nm, "legend2", "t1" + nm, dict(size=6.5, color=c))
    key(nm, "legend3", "t2" + nm, dict(size=6.5, color=c))
key("Exclusion", "legend4", "t3", dict(size=7, color="#FF0000"))
for s in range(10):
    key(sim_labels[s], "legend5", "s" + sim_labels[s], dict(size=4.5, color=sim_colors[s], opacity=0.65))
key("other", "legend6", "ty0", dict(symbol="circle-open", size=9, color="rgba(150,150,150,0.6)", line=dict(width=1)))
key("Exclusion", "legend6", "ty1", dict(symbol="x-thin-open", size=9, color="#FF0000", line=dict(width=1.3, color="#FF3333")))
key("Effectualness", "legend6", "ty2", dict(symbol="cross-thin-open", size=12, color="#3333FF", line=dict(width=1.3, color="#3333FF")))


def leg(xpx, ytop):
    return dict(x=pxx(xpx), y=pxy(ytop), xanchor="left", yanchor="top", bgcolor="rgba(0,0,0,0)",
                font=dict(family=FONT, size=11.2, color="#1A1A1A"), itemsizing="trace",
                traceorder="grouped", tracegroupgap=3, borderwidth=0, itemclick=False, itemdoubleclick=False)


# ---------------- axes ----------------
TICKFONT = dict(family=FONT, size=11.2, color="#4D4D4D")


def axis(domain, rng, **kw):
    d = dict(domain=domain, range=rng, showgrid=True, gridcolor="white", gridwidth=1.3, zeroline=False,
             showline=False, ticks="outside", ticklen=3.5, tickwidth=1.1, tickcolor="#333333",
             tickfont=TICKFONT, automargin=False, fixedrange=True)
    d.update(kw)
    return d


def minor(dtick, tick0):
    return dict(dtick=dtick, tick0=tick0, showgrid=True, gridcolor="white", gridwidth=0.6, ticks="")


P1x, P1y = [pxx(105.0), pxx(464.3)], [pxy(430.0), pxy(48.7)]
P2x, P2y = [pxx(646.0), pxx(1004.2)], [pxy(433.3), pxy(49.3)]
P3x, P3y = [pxx(105.0), pxx(464.2)], [pxy(906.0), pxy(524.0)]
P4x, P4y = [pxx(645.0), pxx(1004.2)], [pxy(906.0), pxy(524.0)]

layout = dict(
    width=W, height=H, margin=dict(l=0, r=0, t=0, b=0),
    paper_bgcolor="white", plot_bgcolor=PANEL_BG, showlegend=True,
    font=dict(family=FONT, color="black"),
    xaxis=axis(P1x, [1.951, 3.053], anchor="y", dtick=0.25, tick0=2, tickformat=".2f", minor=minor(0.125, 2.125)),
    yaxis=axis(P1y, [1.950, 3.049], anchor="x", dtick=0.25, tick0=2, tickformat=".2f", minor=minor(0.125, 2.125)),
    xaxis2=axis(P2x, [1.6963, 2.6579], anchor="y2", dtick=0.25, tick0=1.75, tickformat=".2f", minor=minor(0.125, 1.625)),
    yaxis2=axis(P2y, [-0.0109, 1.0354], anchor="x2", dtick=0.25, tick0=0, tickformat=".2f", minor=minor(0.125, 0.125)),
    xaxis3=axis(P3x, [1256210, 1258939], anchor="y3", tickvals=twed_ticks, ticktext=twed_ticktext, minor=minor(500, 1256500)),
    yaxis3=axis(P3y, [-0.6, 23.6], anchor="x3", type="category", categoryorder="array", categoryarray=templates),
    xaxis4=axis(P4x, [1257.047, 1280.36], anchor="y4", tickvals=dist_ticks, ticktext=dist_ticktext, minor=minor(2.5, 1257.5)),
    yaxis4=axis(P4y, [-0.005, 1.038], anchor="x4", dtick=0.25, tick0=0, tickformat=".2f", minor=minor(0.125, 0.125)),
    legend=leg(474.8, 144.5), legend2=leg(474.8, 281.5), legend3=leg(1020.0, 212.8),
    legend4=leg(476.0, 711.5), legend5=leg(1015.7, 553.8), legend6=leg(1015.7, 823.8),
)
fig.update_layout(**layout)

# legend key backgrounds
key_boxes = [(484, 148, 506, 236), (484, 285, 506, 351), (1029, 216, 1051, 282),
             (485, 715, 507, 737), (1025, 557, 1047, 777), (1025, 827, 1047, 893)]
for x0, y0, x1, y1 in key_boxes:
    fig.add_shape(type="rect", xref="paper", yref="paper", x0=pxx(x0), x1=pxx(x1), y0=pxy(y1), y1=pxy(y0),
                  fillcolor=KEY_BG, line=dict(width=0), layer="below")


def text(t, x, y, size, anchor="left", angle=0, color="black", yanchor="middle"):
    fig.add_annotation(text=t, x=pxx(x), y=pxy(y), xref="paper", yref="paper", showarrow=False,
                       xanchor=anchor, yanchor=yanchor, textangle=angle,
                       font=dict(family=FONT, size=size, color=color))


# titles
text("The Distribution of Overlap for Mass", 105.2, 13.3, 16.8)
text("Exclusion is ranked by 5% of overall closest TWED distance.", 105.2, 34.3, 14)
text("The Distribution of Overlap for Chirp Mass", 646, 13.3, 16.8)
text("Exclusion is ranked by 5% of overall closest TWED distance.", 646, 34.3, 14)
text("Overall TWED Distance of 5% Closest Templates", 105.2, 489, 16.8)
text("The Distribution of Overlap and Total TWED Distance", 645, 489, 16.8)
text("Each point is one pair of template and simulation waveform", 645, 510, 14)
# axis titles
text("m<sub>1</sub>", 284.5, 448.5, 14, "center", yanchor="top")
text("m<sub>2</sub>", 16, 240, 14, "center", -90)
text("M<sub>chirp</sub>", 825, 448.5, 14, "center", yanchor="top")
text("Overlap", 607, 240, 14, "center", -90)
text("TWED", 284.5, 933, 14, "center")
text("Template", 17, 716, 14, "center", -90)
text("Total Distance", 825, 933, 14, "center")
text("Overlap", 606, 715, 14, "center", -90)
# legend titles
text("Overlap", 484, 135, 14)
text("Template Type", 484, 271.7, 14)
text("Template Type", 1028.7, 203.3, 14)
text("Template Type", 485.3, 701.3, 14)
text("Simulation Index", 1025.2, 545, 14)
text("Type", 1025.2, 813.3, 14)

fig.write_html("out.html", config={"displayModeBar": False},
               post_script="document.body.style.margin='0px';document.body.style.overflow='hidden';")
